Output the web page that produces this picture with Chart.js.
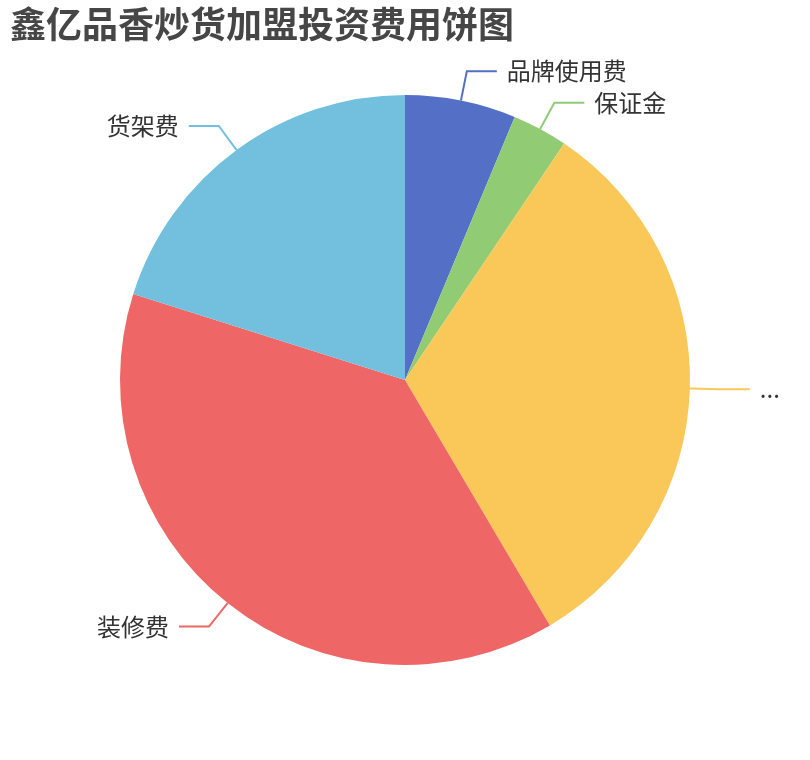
<!DOCTYPE html>
<html>
<head>
<meta charset="utf-8">
<script src="https://cdn.jsdelivr.net/npm/chart.js@4"></script>
<style>
  body { margin: 0; background: #fff; }
  #wrap { width: 810px; height: 760px; }
</style>
</head>
<body>
<div id="wrap"><canvas id="pie" width="810" height="760"></canvas></div>
<script>
const TITLE = '鑫亿品香炒货加盟投资费用饼图';

// slices, clockwise from 12 o'clock
const categories = ['品牌使用费', '保证金', '...', '装修费', '货架费'];
const values = [2, 1, 10.2, 12.2, 6.4];
const colors = ['#5470c6', '#91cc75', '#fac858', '#ee6666', '#73c0de'];

const FONT = '"Noto Sans CJK SC", "Noto Sans", sans-serif';

// draws the title and the outside labels with their guide lines
const pieLabels = {
  id: 'pieLabels',
  afterDraw(chart) {
    const ctx = chart.ctx;
    ctx.save();
    ctx.fillStyle = '#464646';
    ctx.font = 'bold 36px ' + FONT;
    ctx.textAlign = 'left';
    ctx.textBaseline = 'middle';
    ctx.fillText(TITLE, 10, 24);

    const meta = chart.getDatasetMeta(0);
    meta.data.forEach((arc, i) => {
      const mid = (arc.startAngle + arc.endAngle) / 2;
      const r = arc.outerRadius;
      const cos = Math.cos(mid), sin = Math.sin(mid);
      const x1 = arc.x + r * cos, y1 = arc.y + r * sin;
      const x2 = arc.x + (r + 30) * cos, y2 = arc.y + (r + 30) * sin;
      const right = cos >= 0;
      const x3 = x2 + (right ? 30 : -30);

      ctx.strokeStyle = colors[i];
      ctx.lineWidth = 2;
      ctx.beginPath();
      ctx.moveTo(x1, y1);
      ctx.lineTo(x2, y2);
      ctx.lineTo(x3, y2);
      ctx.stroke();

      ctx.fillStyle = '#333';
      ctx.font = '24px ' + FONT;
      ctx.textAlign = right ? 'left' : 'right';
      ctx.textBaseline = 'middle';
      ctx.fillText(categories[i], x3 + (right ? 10 : -10), y2);
    });
    ctx.restore();
  },
};

new Chart(document.getElementById('pie'), {
  type: 'pie',
  data: {
    labels: categories,
    datasets: [{
      data: values,
      backgroundColor: colors,
      borderWidth: 0,
    }],
  },
  options: {
    responsive: false,
    devicePixelRatio: 1,
    animation: false,
    layout: { padding: { left: 120, right: 120, top: 95, bottom: 95 } },
    plugins: {
      legend: { display: false },
      tooltip: { enabled: false },
    },
  },
  plugins: [pieLabels],
});
</script>
</body>
</html>
